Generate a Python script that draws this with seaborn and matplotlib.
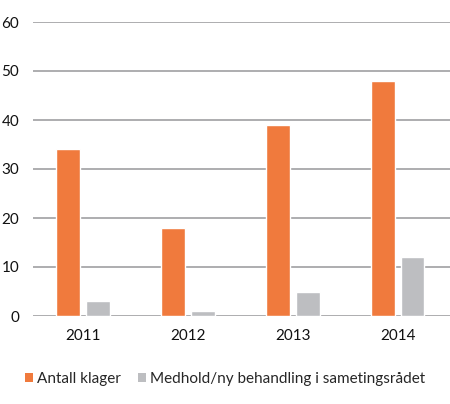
import matplotlib
matplotlib.use("Agg")
import matplotlib.pyplot as plt
import seaborn as sns
import pandas as pd
from matplotlib.patches import Patch

years = ["2011", "2012", "2013", "2014"]
antall_klager = [34, 18, 39, 48]
medhold = [3, 1, 5, 12]
series_names = ["Antall klager", "Medhold/ny behandling i sametingsrådet"]
colors = ["#F07A3D", "#BDBEC1"]
y_ticks = [0, 10, 20, 30, 40, 50, 60]

df = pd.DataFrame({
    "year": years * 2,
    "value": antall_klager + medhold,
    "series": [series_names[0]] * 4 + [series_names[1]] * 4,
})

sns.set_theme(style="white")
plt.rcParams["font.family"] = ["Lato", "DejaVu Sans"]

fig = plt.figure(figsize=(4.5, 4.04), dpi=100)
ax = fig.add_axes([33 / 450, 1 - 316 / 404, (450 - 33) / 450, (316 - 22) / 404])

sns.barplot(data=df, x="year", y="value", hue="series", palette=colors,
            width=0.57, gap=0.2, ax=ax, legend=False, saturation=1)

ax.set_ylim(0, 60)
ax.set_xlim(-0.48, 3.5)
ax.set_yticks(y_ticks)
ax.set_yticklabels([str(t) for t in y_ticks])
ax.yaxis.grid(True, color="#A7A7A9", linewidth=1.3)
ax.set_axisbelow(True)
for s in ax.spines.values():
    s.set_visible(False)
ax.set_xlabel("")
ax.set_ylabel("")
ax.tick_params(axis="both", length=0, labelsize=11, colors="#111111")
ax.tick_params(axis="y", pad=10)
ax.tick_params(axis="x", pad=9)

handles = [Patch(facecolor=c, edgecolor="none") for c in colors]
fig.legend(handles, series_names, loc="center left", bbox_to_anchor=(25 / 450, 1 - 379 / 404),
           ncol=2, frameon=False, fontsize=11, handlelength=0.5, handleheight=0.5,
           handletextpad=0.3, columnspacing=1.1, borderaxespad=0, borderpad=0)

fig.savefig("out.png", dpi=100)
